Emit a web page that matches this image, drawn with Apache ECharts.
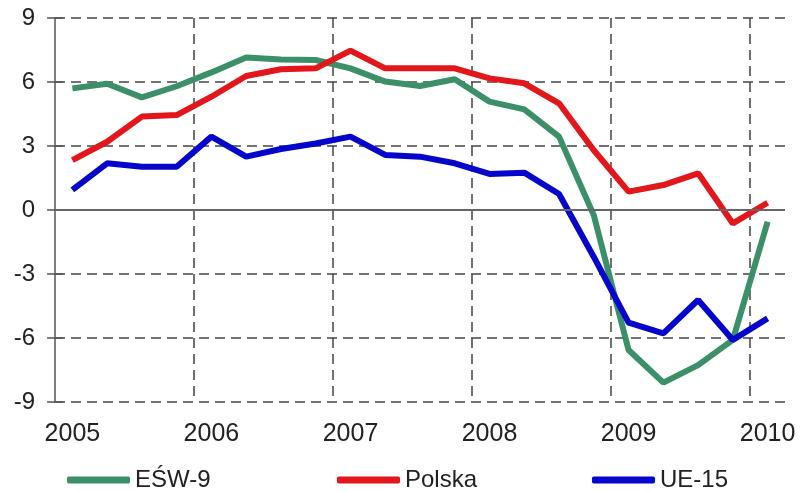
<!DOCTYPE html>
<html>
<head>
<meta charset="utf-8">
<script src="https://cdn.jsdelivr.net/npm/echarts@6/dist/echarts.min.js"></script>
<style>
  html, body { margin: 0; padding: 0; background: #fff; }
  #chart { width: 801px; height: 491px; }
</style>
</head>
<body>
<div id="chart"></div>
<script>
// Quarterly observations, 2005 Q1 – 2010 Q1
const quarters = [
  '2005 Q1','2005 Q2','2005 Q3','2005 Q4',
  '2006 Q1','2006 Q2','2006 Q3','2006 Q4',
  '2007 Q1','2007 Q2','2007 Q3','2007 Q4',
  '2008 Q1','2008 Q2','2008 Q3','2008 Q4',
  '2009 Q1','2009 Q2','2009 Q3','2009 Q4',
  '2010 Q1'
];

const esw9 = [5.70, 5.92, 5.28, 5.80, 6.45, 7.15, 7.05, 7.03, 6.64, 6.02, 5.81, 6.13,
              5.08, 4.72, 3.44, -0.25, -6.56, -8.09, -7.27, -6.09, -0.55];
const polska = [2.34, 3.20, 4.38, 4.45, 5.31, 6.28, 6.60, 6.64, 7.47, 6.64, 6.64, 6.64,
                6.17, 5.94, 5.00, 2.80, 0.86, 1.17, 1.72, -0.63, 0.34];
const ue15 = [0.94, 2.19, 2.03, 2.03, 3.44, 2.50, 2.86, 3.12, 3.44, 2.58, 2.50, 2.19,
              1.69, 1.75, 0.75, -2.20, -5.28, -5.78, -4.22, -6.09, -5.08];

const seriesNames = ['EŚW-9', 'Polska', 'UE-15'];
const seriesColors = ['#3b8f69', '#e3161b', '#0505cc'];

const FONT = 'Liberation Sans, Arial, sans-serif';
const gridDash = { color: '#444', width: 1.5, type: [10, 6] };

const chart = echarts.init(document.getElementById('chart'), null, { renderer: 'canvas' });

function legendAt(name, left) {
  return {
    data: [name],
    left: left,
    top: 463,
    icon: 'roundRect',
    itemWidth: 63,
    itemHeight: 7,
    itemGap: 5,
    selectedMode: false,
    textStyle: { fontFamily: FONT, fontSize: 24, color: '#222', padding: [0, 0, 0, 0] }
  };
}

chart.setOption({
  animation: false,
  backgroundColor: '#fff',
  grid: { left: 55, right: 16, top: 18, bottom: 89, containLabel: false },
  legend: [
    legendAt(seriesNames[0], 62),
    legendAt(seriesNames[1], 332),
    legendAt(seriesNames[2], 587)
  ],
  xAxis: {
    type: 'category',
    data: quarters,
    boundaryGap: true,
    axisLine: { show: false, onZero: false },
    axisTick: { show: false, interval: 3 },
    axisLabel: {
      interval: 3,
      margin: 20,
      fontFamily: FONT,
      fontSize: 25,
      color: '#222',
      formatter: v => v.slice(0, 4)
    },
    splitLine: { show: true, interval: 3, showMinLine: false, showMaxLine: false, lineStyle: gridDash }
  },
  yAxis: [
    {
      type: 'value',
      min: -9,
      max: 9,
      interval: 3,
      axisLine: { show: true, lineStyle: { color: '#555', width: 1.5 } },
      axisTick: { show: true, inside: false, length: 8, lineStyle: { color: '#555', width: 1.5 } },
      axisLabel: { margin: 20, fontFamily: FONT, fontSize: 24, color: '#222' },
      splitLine: { show: true, lineStyle: gridDash }
    },
    {
      // inner half of the crossing ticks on the left axis
      type: 'value',
      min: -9,
      max: 9,
      interval: 3,
      position: 'left',
      axisLine: { show: false },
      axisTick: { show: true, inside: true, length: 8, lineStyle: { color: '#555', width: 1.5 } },
      axisLabel: { show: false },
      splitLine: { show: false }
    }
  ],
  series: [
    {
      name: seriesNames[0],
      type: 'line',
      data: esw9,
      symbol: 'none',
      color: seriesColors[0],
      lineStyle: { width: 6, color: seriesColors[0] },
      markLine: {
        silent: true,
        symbol: 'none',
        label: { show: false },
        lineStyle: { color: '#666', width: 2, type: 'solid' },
        data: [{ yAxis: 0 }]
      },
      z: 2
    },
    {
      name: seriesNames[1],
      type: 'line',
      data: polska,
      symbol: 'none',
      color: seriesColors[1],
      lineStyle: { width: 6, color: seriesColors[1] },
      z: 3
    },
    {
      name: seriesNames[2],
      type: 'line',
      data: ue15,
      symbol: 'none',
      color: seriesColors[2],
      lineStyle: { width: 6, color: seriesColors[2] },
      z: 4
    }
  ]
});
</script>
</body>
</html>
